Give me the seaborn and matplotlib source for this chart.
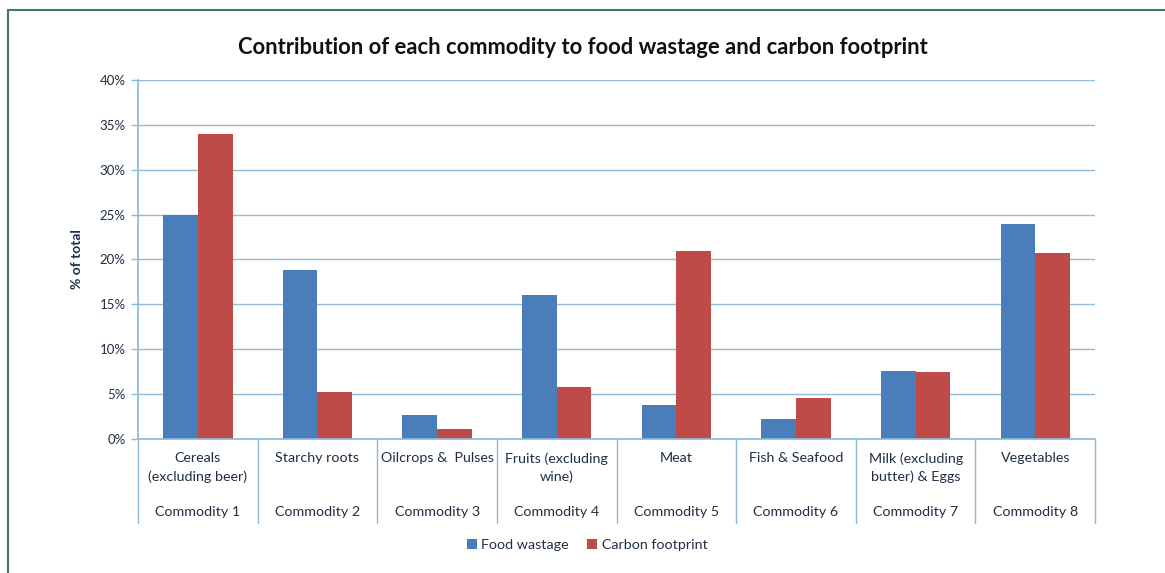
import pandas as pd
import numpy as np
import matplotlib
matplotlib.use("Agg")
import matplotlib.pyplot as plt
import matplotlib.transforms as mtransforms
from matplotlib.lines import Line2D
from matplotlib.ticker import PercentFormatter
import seaborn as sns

# data (% of total)
commodities = ["Commodity 1", "Commodity 2", "Commodity 3", "Commodity 4",
               "Commodity 5", "Commodity 6", "Commodity 7", "Commodity 8"]
names = ["Cereals\n(excluding beer)", "Starchy roots", "Oilcrops &  Pulses",
         "Fruits (excluding\nwine)", "Meat", "Fish & Seafood",
         "Milk (excluding\nbutter) & Eggs", "Vegetables"]
food_wastage = [25.0, 18.8, 2.7, 16.0, 3.8, 2.2, 7.6, 24.0]
carbon_footprint = [34.0, 5.2, 1.1, 5.8, 21.0, 4.6, 7.5, 20.7]
series = ["Food wastage", "Carbon footprint"]

df = pd.DataFrame({
    "commodity": commodities * 2,
    "series": [series[0]] * len(commodities) + [series[1]] * len(commodities),
    "value": food_wastage + carbon_footprint,
})

sns.set_theme(style="white")
plt.rcParams["font.family"] = ["Lato", "DejaVu Sans"]

text_col = "#1f2f45"
grid_col = "#8fbad8"
colors = ["#4a7ebb", "#be4b48"]

fig = plt.figure(figsize=(11.65, 5.73), dpi=100)
ax = fig.add_axes([0.1185, 0.2339, 0.8215, 0.6265])

sns.barplot(data=df, x="commodity", y="value", hue="series", palette=colors,
            width=0.58, saturation=1, linewidth=0, ax=ax, legend=True)

ax.set_ylim(0, 40)
ax.set_xlim(-0.5, len(commodities) - 0.5)
ax.set_yticks(np.arange(0, 41, 5))
ax.yaxis.set_major_formatter(PercentFormatter(decimals=0))
ax.tick_params(axis="y", labelsize=9.5, labelcolor=text_col, color=grid_col,
               length=5, width=1, left=True, pad=4)
ax.set_xticks([])
ax.set_xlabel("")
ax.set_ylabel("% of total", fontsize=10, fontweight="bold", color=text_col, labelpad=12)
ax.yaxis.grid(True, color=grid_col, linewidth=1)
ax.set_axisbelow(True)
for side in ["top", "right"]:
    ax.spines[side].set_visible(False)
ax.spines["left"].set_color(grid_col)
ax.spines["bottom"].set_color(grid_col)

# category table below the axis
trans = mtransforms.blended_transform_factory(ax.transData, fig.transFigure)
for i in range(len(commodities) + 1):
    ax.add_line(Line2D([i - 0.5, i - 0.5], [1 - 439 / 573, 1 - 523 / 573],
                       transform=trans, color=grid_col, linewidth=1, clip_on=False))
for i, (nm, cm) in enumerate(zip(names, commodities)):
    ax.text(i, 1 - 452 / 573, nm, transform=trans, ha="center", va="top",
            fontsize=10.3, color=text_col, linespacing=1.6)
    ax.text(i, 1 - 512 / 573, cm, transform=trans, ha="center", va="center",
            fontsize=10.3, color=text_col)

ax.legend(loc="center", bbox_to_anchor=(0.504, 1 - 545 / 573),
          bbox_transform=fig.transFigure, ncol=2, frameon=False,
          fontsize=10.3, handlelength=0.7, handleheight=0.7, handletextpad=0.3,
          columnspacing=1.3, labelcolor=text_col)

fig.suptitle("Contribution of each commodity to food wastage and carbon footprint",
             x=0.5, y=1 - 47 / 573, va="center", fontsize=15.8, fontweight="bold",
             color="#111111")

# green outer frame
frame_col = "#3f7d5c"
fig.add_artist(Line2D([8 / 1165, 1.0], [1 - 10 / 573, 1 - 10 / 573],
                      transform=fig.transFigure, color=frame_col, linewidth=1.5))
fig.add_artist(Line2D([8 / 1165, 8 / 1165], [1 - 10 / 573, 0.0],
                      transform=fig.transFigure, color=frame_col, linewidth=1.5))

fig.savefig("out.png", dpi=100)
